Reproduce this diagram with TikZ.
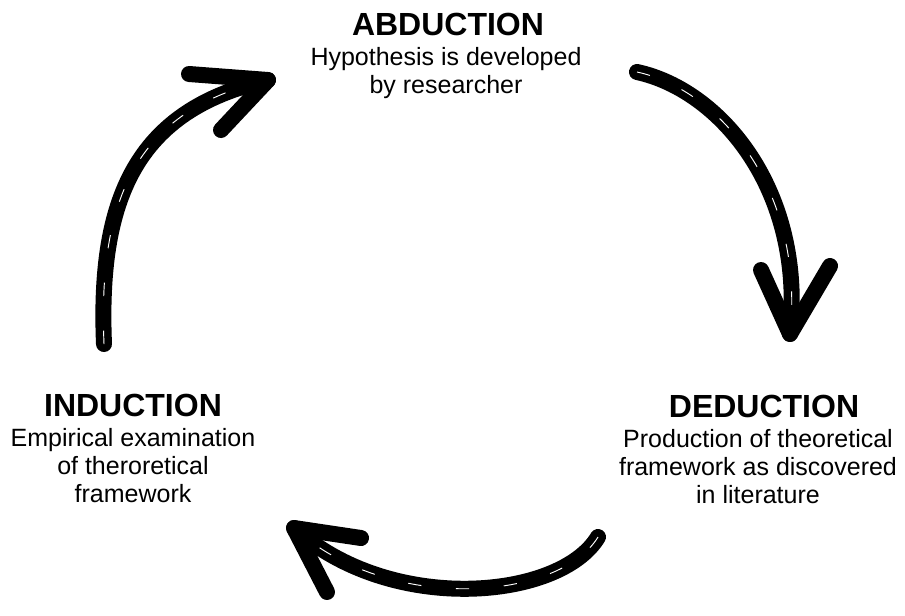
\documentclass[tikz,border=0pt]{standalone}
\usepackage{fontspec}
\setmainfont{Liberation Sans}
\usepackage{tikz}
\usetikzlibrary{positioning}

\begin{document}
\begin{tikzpicture}[x=0.75pt, y=-0.75pt,
    stage/.style={font=\fontsize{24}{28}\selectfont\bfseries, inner sep=0pt, anchor=base},
    blurb/.style={font=\fontsize{18.75}{21}\selectfont, align=center, inner sep=0pt, anchor=north},
    brush/.style={line width=12pt, line cap=round, line join=round},
    streak/.style={white, line width=0.7pt, dash pattern=on 10pt off 26pt}]

\useasboundingbox (0,0) rectangle (905,615);

% The three stages of the cycle
\node[stage] (abd) at (448,35) {ABDUCTION};
\node[blurb] (abdtxt) at (446,47) {Hypothesis is developed\\by researcher};

\node[stage] (ded) at (764,417) {DEDUCTION};
\node[blurb] (dedtxt) at (758,429) {Production of theoretical\\framework as discovered\\in literature};

\node[stage] (ind) at (133,416) {INDUCTION};
\node[blurb] (indtxt) at (133,428) {Empirical examination\\of theroretical\\framework};

% End points of the brush arrows
\coordinate (i0) at (104,344);
\coordinate (a1) at (268,80);
\coordinate (a1l) at (189,74);
\coordinate (a1r) at (221,130);

\coordinate (a0) at (637,72);
\coordinate (d1) at (790,334);
\coordinate (d1l) at (761,270);
\coordinate (d1r) at (830,266);

\coordinate (d0) at (598,537);
\coordinate (i1) at (294,528);
\coordinate (i1l) at (361,538);
\coordinate (i1r) at (327,592);

% Shafts, each with a thin white streak for the brush look
\draw[brush] (i0) .. controls (98,200) and (135,110) .. (a1);
\draw[streak] (i0) .. controls (98,200) and (135,110) .. (a1);
\draw[brush] (a0) .. controls (720,90) and (805,190) .. (d1);
\draw[streak] (a0) .. controls (720,90) and (805,190) .. (d1);
\draw[brush] (d0) .. controls (560,600) and (390,615) .. (i1);
\draw[streak] (d0) .. controls (560,600) and (390,615) .. (i1);

% Arrow heads
\foreach \lft/\tip/\rgt in {a1l/a1/a1r, d1l/d1/d1r, i1l/i1/i1r} {
  \draw[brush] (\lft) -- (\tip) -- (\rgt);
}

\end{tikzpicture}
\end{document}
